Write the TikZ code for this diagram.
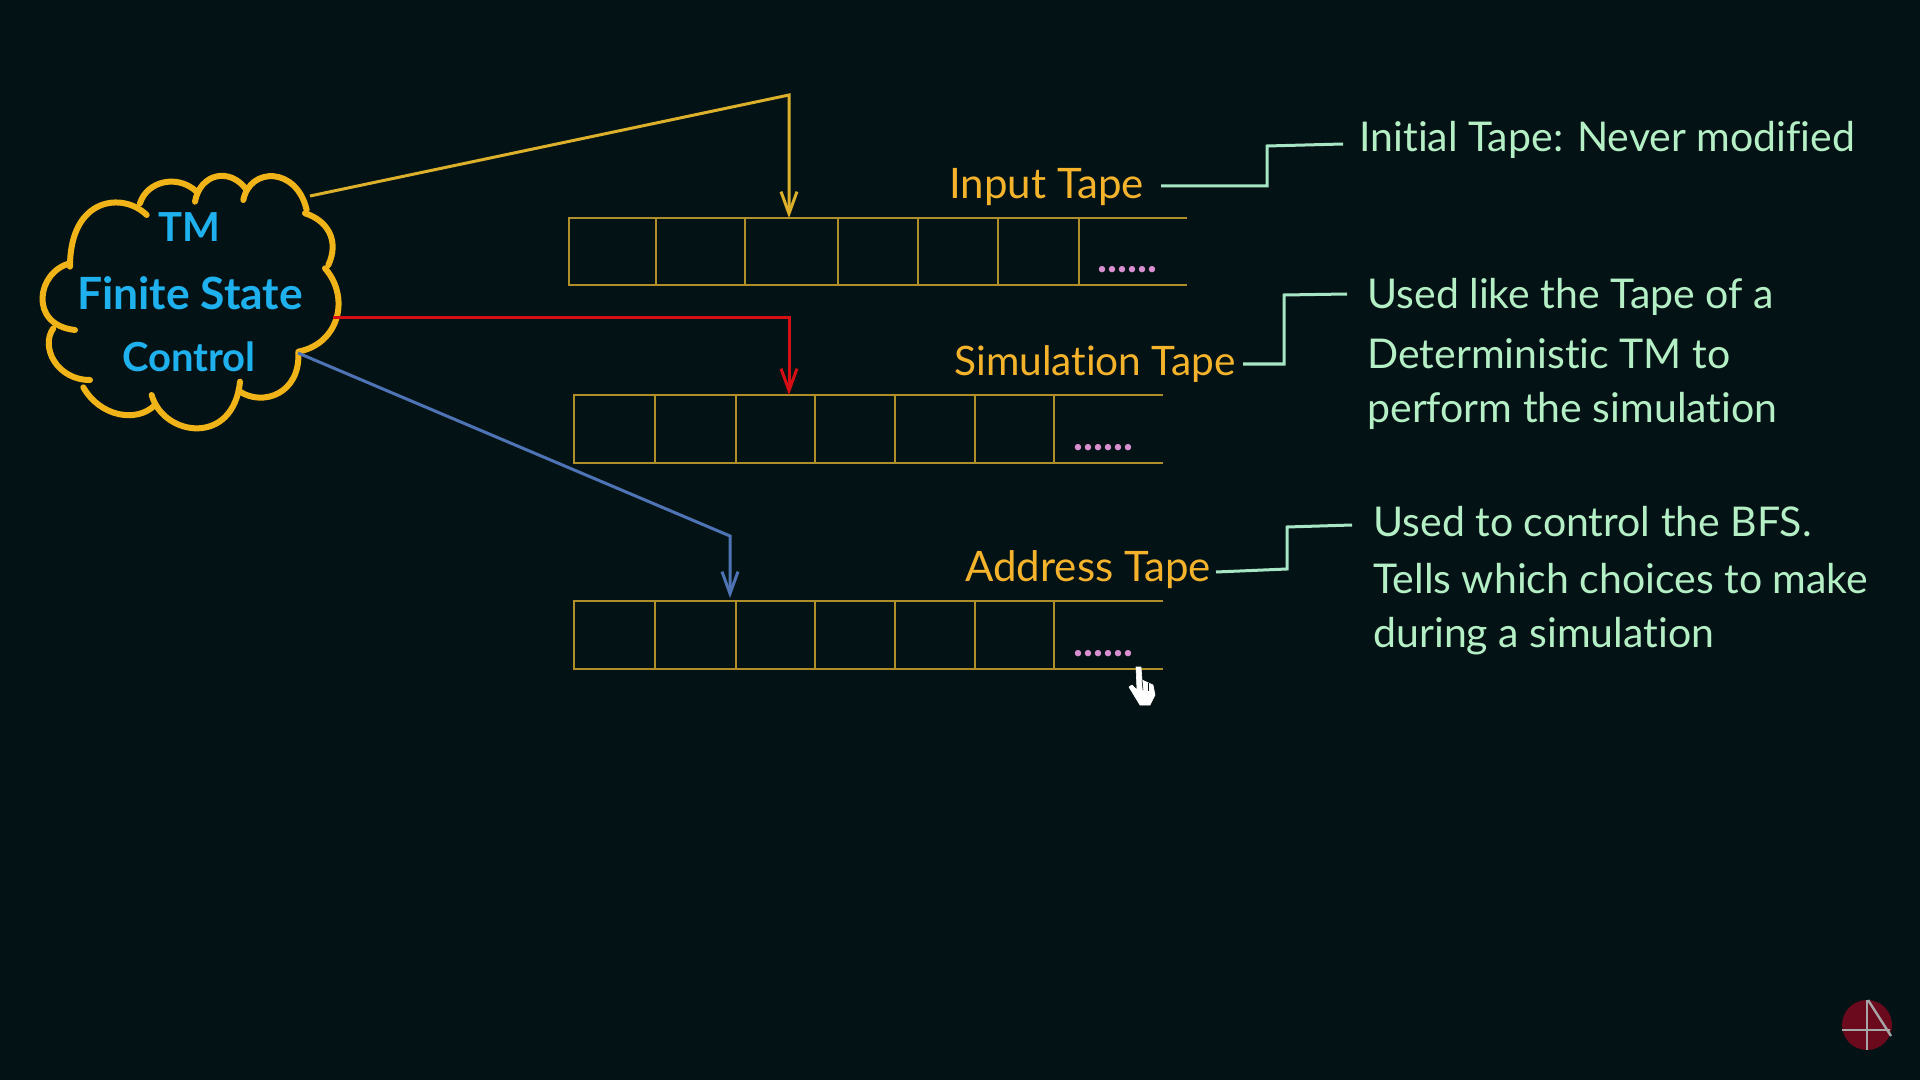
\documentclass[tikz,border=0pt]{standalone}
\usepackage{fontspec}
\setmainfont[Ligatures=NoCommon]{Lato}
\usetikzlibrary{positioning, arrows.meta}
\definecolor{board}{HTML}{031315}
\definecolor{tapeline}{HTML}{B08F2A}
\definecolor{tapelabel}{HTML}{F5B32C}
\definecolor{cloudline}{HTML}{F0B418}
\definecolor{cloudtext}{HTML}{1FB0EE}
\definecolor{notetext}{HTML}{B4EFC6}
\definecolor{noteline}{HTML}{A6E6C4}
\definecolor{dotcolor}{HTML}{D88FD0}
\definecolor{headyellow}{HTML}{DDB02C}
\definecolor{headred}{HTML}{D50F14}
\definecolor{headblue}{HTML}{4F74B6}
\definecolor{logored}{HTML}{6A0A1C}
\begin{document}
\begin{tikzpicture}
    [
        x=0.5pt, y=-0.5pt, >={Straight Barb[length=11pt,width=8pt]},
        cloud_text/.style={text=cloudtext, inner sep=0pt, font=\fontsize{20}{22}\selectfont\bfseries},
        tape_label/.style={text=tapelabel, anchor=west, inner sep=0pt, font=\fontsize{21}{22}\selectfont},
        note_text/.style={text=notetext, anchor=west, inner sep=0pt, font=\fontsize{20.5}{22}\selectfont},
        tape_dots/.style={text=dotcolor, inner sep=0pt, font=\fontsize{21}{22}\selectfont\bfseries},
        tape_line/.style={draw=tapeline, line width=1pt},
        note_line/.style={draw=noteline, line width=1.5pt},
        head_line/.style={->, line width=1.5pt},
    ]

  \fill[board] (0,0) rectangle (1920,1080);
  \useasboundingbox (0,0) rectangle (1920,1080);

  % cloud
  \begin{scope}[shift={(20,150)}, x=0.16667pt, y=-0.16667pt, draw=cloudline, line width=3pt, line cap=round]
    \draw (380,195) .. controls (310,125) and (150,140) .. (150,350);
    \draw (150,340) .. controls (50,365) and (25,525) .. (165,540);
    \draw (100,535) .. controls (60,590) and (110,690) .. (210,690);
    \draw (190,712) .. controls (240,800) and (350,820) .. (405,765);
    \draw (395,735) .. controls (430,860) and (640,890) .. (660,695);
    \draw (660,725) .. controls (730,770) and (840,730) .. (835,610);
    \draw (835,605) .. controls (960,580) and (990,440) .. (915,355);
    \draw (925,345) .. controls (960,270) and (920,210) .. (855,190);
    \draw (860,180) .. controls (830,50) and (690,50) .. (670,150);
    \draw (680,120) .. controls (630,50) and (540,70) .. (525,155);
    \draw (530,125) .. controls (470,70) and (380,95) .. (360,160);
  \end{scope}

  \node[cloud_text] (tm) at (189,227) {TM};
  \node[cloud_text, font=\fontsize{22.2}{22}\selectfont\bfseries] (finite) at (190,293) {Finite State};
  \node[cloud_text] (control) at (189,357) {Control};

  % tapes
  \draw[tape_line] (1187,218) -- (569,218) -- (569,285) -- (1187,285);
  \foreach \x in {656,745,838,918,998,1079}
    \draw[tape_line] (\x,218) -- (\x,285);
  \draw[tape_line] (1163,395) -- (574,395) -- (574,463) -- (1163,463);
  \foreach \x in {655,736,815,895,975,1054}
    \draw[tape_line] (\x,395) -- (\x,463);
  \draw[tape_line] (1163,601) -- (574,601) -- (574,669) -- (1163,669);
  \foreach \x in {655,736,815,895,975,1054}
    \draw[tape_line] (\x,601) -- (\x,669);

  \node[tape_dots] (input_dots) at (1127,270) {......};
  \node[tape_dots] (sim_dots) at (1103,448) {......};
  \node[tape_dots] (addr_dots) at (1103,654) {......};

  % labels
  \node[tape_label] (input_label) at (949,187) {Input Tape};
  \node[tape_label, font=\fontsize{20.3}{22}\selectfont] (sim_label) at (954,364) {Simulation Tape};
  \node[tape_label] (addr_label) at (965,570) {Address Tape};

  \node[note_text] (note_a) at (1359,140) {Initial Tape: Never modified};
  \node[note_text] (note_b) at (1367,297) {Used like the Tape of a};
  \node[note_text] (note_c) at (1367,354) {Deterministic TM to};
  \node[note_text] (note_d) at (1367,411) {perform the simulation};
  \node[note_text] (note_e) at (1373,522) {Used to control the BFS.};
  \node[note_text] (note_f) at (1373,579) {Tells which choices to make};
  \node[note_text] (note_g) at (1373,636) {during a simulation};

  % heads
  \coordinate (cloud_a) at (310,196);
  \coordinate (cloud_b) at (333,318);
  \coordinate (cloud_c) at (298,353);
  \coordinate (head_a) at (789,218);
  \coordinate (head_b) at (789,395);
  \coordinate (head_c) at (730,598);

  \draw[head_line, headyellow] (cloud_a) -- (789,95) -- (head_a);
  \draw[head_line, headred] (cloud_b) -- (789,318) -- (head_b);
  \draw[head_line, headblue] (cloud_c) -- (730,536) -- (head_c);

  % notes
  \coordinate (sim_end) at (1243,364);
  \coordinate (addr_end) at (1216,572);
  \coordinate (input_end) at (1161,186);
  \draw[note_line] (input_end) -- (1267,186) -- (1267,146) -- (1343,144);
  \draw[note_line] (sim_end) -- (1284,364) -- (1284,295) -- (1347,294);
  \draw[note_line] (addr_end) -- (1287,569) -- (1287,527) -- (1352,525);

  % cursor
  \filldraw[white, line join=round, line width=0.3pt]
    (1136,667) -- (1141,667) -- (1142,680) -- (1153,685) -- (1155,695) -- (1150,705)
    -- (1140,705) -- (1129,687) -- (1132,685) -- (1137,690) -- cycle;
  \draw[board, line width=0.3pt] (1142,680) -- (1143,690);
  \draw[board, line width=0.3pt] (1148,683) -- (1148,691);

  % logo
  \fill[logored] (1867,1025) circle[radius=25];
  \draw[gray!70, line width=1.2pt] (1867,1000) -- (1867,1050);
  \draw[gray!70, line width=1.2pt] (1842,1030) -- (1890,1030);
  \draw[gray!70, line width=1.2pt] (1868,1000) -- (1891,1036);
\end{tikzpicture}
\end{document}
